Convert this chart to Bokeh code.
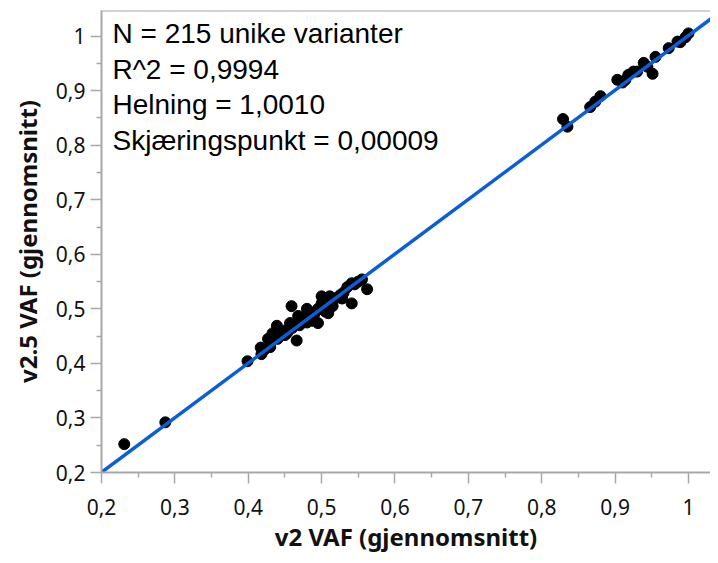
from bokeh.plotting import figure
from bokeh.models import Range1d, FixedTicker, Span, CustomJSTickFormatter, ColumnDataSource
from bokeh.core.properties import value
from bokeh.embed import file_html
from bokeh.resources import INLINE

# ---- data ----
v2_vaf = [0.231, 0.287,
          0.399, 0.418, 0.417, 0.427, 0.439, 0.443, 0.459, 0.466, 0.468, 0.480,
          0.495, 0.500, 0.509, 0.511, 0.528, 0.541, 0.541, 0.555, 0.562, 0.457,
          0.484, 0.453, 0.433, 0.450, 0.470, 0.490, 0.500, 0.510, 0.520, 0.530,
          0.470, 0.460, 0.440, 0.430, 0.480, 0.500, 0.505, 0.515, 0.525, 0.545,
          0.550, 0.535, 0.475, 0.488, 0.495, 0.462, 0.448, 0.422,
          0.829, 0.835, 0.866, 0.873, 0.880, 0.903, 0.914, 0.918, 0.925, 0.939,
          0.944, 0.951, 0.955, 0.973, 0.989, 0.996, 1.000, 0.985, 0.930, 0.910]
v25_vaf = [0.252, 0.292,
           0.404, 0.417, 0.429, 0.445, 0.469, 0.460, 0.505, 0.442, 0.487, 0.500,
           0.474, 0.523, 0.492, 0.523, 0.519, 0.510, 0.547, 0.554, 0.536, 0.474,
           0.487, 0.456, 0.455, 0.452, 0.470, 0.490, 0.500, 0.512, 0.520, 0.530,
           0.480, 0.465, 0.445, 0.430, 0.475, 0.510, 0.495, 0.505, 0.525, 0.545,
           0.550, 0.540, 0.482, 0.478, 0.500, 0.470, 0.460, 0.425,
           0.848, 0.834, 0.870, 0.880, 0.890, 0.920, 0.920, 0.929, 0.935, 0.951,
           0.944, 0.931, 0.962, 0.978, 0.989, 0.998, 1.005, 0.990, 0.935, 0.915]

slope = 1.0010
intercept = 0.00009
x_extent = [0.2, 1.05]
fit_y = [slope * xv + intercept for xv in x_extent]

stats_lines = ["N = 215 unike varianter", "R^2 = 0,9994", "Helning = 1,0010",
               "Skjæringspunkt = 0,00009"]
stats_y = [1.005, 0.938, 0.874, 0.809]
stats_x = [0.215] * 4

major_ticks = [0.2, 0.3, 0.4, 0.5, 0.6, 0.7, 0.8, 0.9, 1.0]
minor_ticks = [0.25, 0.35, 0.45, 0.55, 0.65, 0.75, 0.85, 0.95, 1.05]

p = figure(width=710, height=555, output_backend="svg", toolbar_location=None,
           x_range=Range1d(0.2, 1.030), y_range=Range1d(0.2, 1.047),
           min_border_left=101, min_border_right=0, min_border_top=10,
           min_border_bottom=75)
p.outline_line_color = None
p.grid.visible = False
p.background_fill_color = "white"
p.border_fill_color = "white"

fmt = CustomJSTickFormatter(code="""
const s = (Math.round(tick*10)/10).toString();
return s.replace('.', ',');
""")

gray = "#A8A8A8"
for ax in (p.xaxis[0], p.yaxis[0]):
    ax.ticker = FixedTicker(ticks=major_ticks, minor_ticks=minor_ticks)
    ax.formatter = fmt
    ax.axis_line_color = gray
    ax.axis_line_width = 2
    ax.major_tick_line_color = gray
    ax.minor_tick_line_color = gray
    ax.major_tick_line_width = 1.5
    ax.minor_tick_line_width = 1.5
    ax.major_tick_out = 11
    ax.major_tick_in = 0
    ax.minor_tick_out = 5
    ax.minor_tick_in = 0
    ax.major_label_text_font = "Noto Sans"
    ax.major_label_text_font_size = "21px"
    ax.major_label_text_color = "#111111"
    ax.axis_label_text_font = "Noto Sans"
    ax.axis_label_text_font_style = "bold"
    ax.axis_label_text_font_size = "24px"
    ax.axis_label_text_color = "#111111"

p.xaxis.axis_label = "v2 VAF (gjennomsnitt)"
p.yaxis.axis_label = "v2.5 VAF (gjennomsnitt)"
p.xaxis.major_label_standoff = 15
p.xaxis.axis_label_standoff = 2
p.yaxis.major_label_standoff = 5
p.yaxis.axis_label_standoff = 9

p.add_layout(Span(location=1.047, dimension="width", line_color=gray, line_width=2))

p.scatter(v2_vaf, v25_vaf, size=11, color="black")
p.line(x_extent, fit_y, line_color="#0B5ED7", line_width=3.5)

src = ColumnDataSource(dict(x=stats_x, y=stats_y, t=stats_lines))
p.text(x="x", y="y", text="t", source=src, text_font=value("Liberation Sans"),
       text_font_size="28px", text_baseline="middle", text_align="left",
       text_color="black")

open("out.html", "w").write(file_html(p, INLINE))
